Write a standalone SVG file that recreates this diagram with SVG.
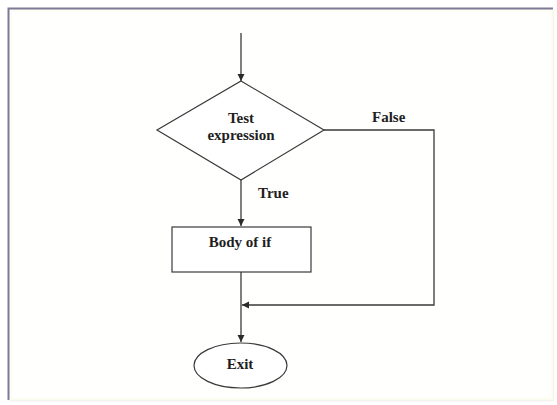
<svg xmlns="http://www.w3.org/2000/svg" width="557" height="405" viewBox="0 0 557 405">
<style>
.ln{fill:none;stroke:#3a3a3a;stroke-width:1.3}
.sh{fill:#ffffff;stroke:#3a3a3a;stroke-width:1.2}
.tx{font-family:"Liberation Serif","Times New Roman",serif;font-weight:bold;font-size:15px;fill:#1e1e1e;text-anchor:middle}
.lb{font-family:"Liberation Serif","Times New Roman",serif;font-weight:bold;font-size:15px;fill:#1e1e1e}
</style>
<defs>
<marker id="ah" markerWidth="8" markerHeight="8" refX="7" refY="3.5" orient="auto" markerUnits="userSpaceOnUse">
<path d="M0,0 L7,3.5 L0,7 Z" fill="#2a2a2a"/>
</marker>
</defs>
<rect x="0" y="0" width="557" height="405" fill="#ffffff"/>
<rect x="10" y="10" width="542" height="389" fill="#fffffe" stroke="#fdfdf2" stroke-width="3"/>
<path d="M8.5,400 V8.5 H553" fill="none" stroke="#7c7a98" stroke-width="2"/>
<path d="M553.5,9 V400.5 H9" fill="none" stroke="#f4f4ec" stroke-width="1.5"/>
<g id="connectors">
<line class="ln" x1="241" y1="33" x2="241" y2="81" marker-end="url(#ah)"/>
<line class="ln" x1="241" y1="180" x2="241" y2="226" marker-end="url(#ah)"/>
<polyline class="ln" points="324,130 434,130 434,305 242,305" marker-end="url(#ah)"/>
<line class="ln" x1="241" y1="272" x2="241" y2="342" marker-end="url(#ah)"/>
<text class="lb" x="372" y="122">False</text>
<text class="lb" x="258" y="198">True</text>
</g>
<g id="test">
<polygon class="sh" points="241,81 324,130 241,180 157,130"/>
<text class="tx" x="241" y="123">Test</text>
<text class="tx" x="241" y="140">expression</text>
</g>
<g id="body">
<rect class="sh" x="172" y="227" width="139" height="45"/>
<text class="tx" x="240" y="247">Body of if</text>
</g>
<g id="exit">
<ellipse class="sh" cx="240.5" cy="365.5" rx="46.5" ry="22.5"/>
<text class="tx" x="240" y="369">Exit</text>
</g>
</svg>
